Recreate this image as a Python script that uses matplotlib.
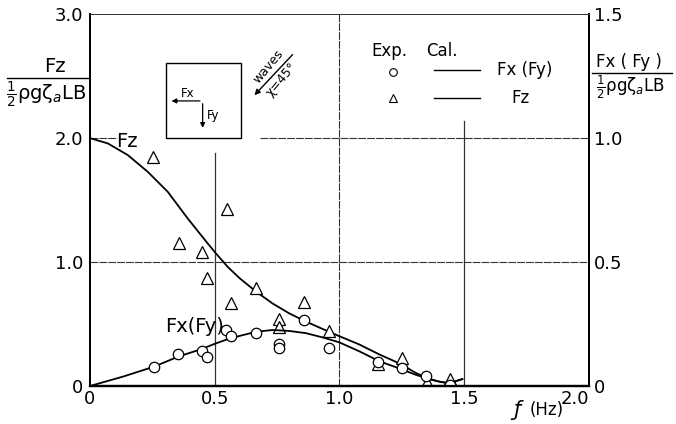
import numpy as np
import matplotlib.pyplot as plt
from matplotlib.lines import Line2D

# measured points (Exp.)
f_fz_exp = [0.252, 0.356, 0.451, 0.469, 0.548, 0.567, 0.664, 0.757, 0.757,
            0.86, 0.957, 1.153, 1.25, 1.35, 1.445]
fz_exp = [1.85, 1.15, 1.08, 0.87, 1.43, 0.67, 0.79, 0.54, 0.48,
          0.68, 0.44, 0.18, 0.23, 0.03, 0.06]

f_fx_exp = [0.257, 0.353, 0.451, 0.469, 0.547, 0.567, 0.664, 0.76, 0.76,
            0.86, 0.957, 1.153, 1.25, 1.348, 1.445]
fx_exp = [0.078, 0.13, 0.14, 0.118, 0.225, 0.20, 0.215, 0.17, 0.155,
          0.265, 0.155, 0.095, 0.073, 0.04, 0.005]   # right axis units

# calculated curves (Cal.)
f_fz_cal = [0, 0.072, 0.152, 0.232, 0.312, 0.392, 0.472, 0.505, 0.552, 0.6,
            0.667, 0.733, 0.8, 0.867, 0.933, 1.0, 1.08, 1.16, 1.24, 1.307,
            1.36, 1.4, 1.44, 1.493]
fz_cal = [2.0, 1.957, 1.863, 1.728, 1.567, 1.352, 1.151, 1.07, 0.962, 0.87,
          0.76, 0.665, 0.585, 0.519, 0.46, 0.402, 0.335, 0.255, 0.183, 0.105,
          0.058, 0.035, 0.022, 0.056]

f_fx_cal = [0, 0.133, 0.257, 0.353, 0.45, 0.5, 0.55, 0.6, 0.667, 0.733, 0.8,
            0.867, 0.933, 1.0, 1.08, 1.16, 1.24, 1.307, 1.36, 1.4, 1.44, 1.493]
fx_cal = [0, 0.038, 0.078, 0.118, 0.15, 0.17, 0.188, 0.202, 0.219, 0.226, 0.222,
          0.213, 0.196, 0.176, 0.14, 0.10, 0.071, 0.045, 0.028, 0.018, 0.011,
          0.028]

xticks = [0, 0.5, 1.0, 1.5, 2.0]
xticklabels = ['0', '0.5', '1.0', '1.5', '2.0']
yticks_l = [0, 1.0, 2.0, 3.0]
yticklabels_l = ['0', '1.0', '2.0', '3.0']
yticks_r = [0, 0.5, 1.0, 1.5]
yticklabels_r = ['0', '0.5', '1.0', '1.5']

plt.rcParams['font.family'] = ['DejaVu Sans']

fig = plt.figure(figsize=(6.76, 4.24), dpi=100)
ax = fig.add_axes([0.133, 0.0896, 0.738, 0.877])
ax.set_xlim(0, 2.0)
ax.set_ylim(0, 3.0)
ax2 = ax.twinx()
ax2.set_ylim(0, 1.5)

ax.tick_params(axis='x', length=0, labelsize=13, pad=3)
ax.tick_params(axis='y', length=0, labelsize=13, pad=5)
ax2.tick_params(axis='y', length=0, labelsize=13, pad=4)
ax.set_xticks(xticks)
ax.set_xticklabels(xticklabels)
ax.get_xticklabels()[-1].set_horizontalalignment('right')
ax.set_yticks(yticks_l)
ax.set_yticklabels(yticklabels_l)
ax2.set_yticks(yticks_r)
ax2.set_yticklabels(yticklabels_r)

for a in (ax, ax2):
    a.spines['left'].set_linewidth(1.3)
    a.spines['bottom'].set_linewidth(1.6)
    a.spines['right'].set_linewidth(1.3)
    a.spines['top'].set_linestyle((0, (5, 1)))
    a.spines['top'].set_linewidth(0.7)
    a.spines['top'].set_color('#333333')

# grid lines, partly broken around the labels and the inset
gkw = dict(color='#333333', lw=0.8, ls=(0, (7, 1)))
ax.plot([0, 2.0], [1.0, 1.0], **gkw)
ax.plot([0, 0.11], [2.0, 2.0], **gkw)
ax.plot([0.68, 2.0], [2.0, 2.0], **gkw)
ax.plot([1.0, 1.0], [0, 3.0], **gkw)
ax.plot([0.5, 0.5], [0, 1.88], color='#333333', lw=0.9)
ax.plot([1.5, 1.5], [0, 2.14], color='#333333', lw=0.9)

# curves and points
ax.plot(f_fz_cal, fz_cal, color='black', lw=1.3)
ax.plot(f_fz_exp, fz_exp, ls='none', marker='^', ms=8, mfc='white',
        mec='black', mew=0.9)
ax2.plot(f_fx_cal, fx_cal, color='black', lw=1.3)
ax2.plot(f_fx_exp, fx_exp, ls='none', marker='o', ms=7.5, mfc='white',
         mec='black', mew=0.9)

ax.text(0.15, 1.97, 'Fz', fontsize=14, ha='center', va='center')
ax.text(0.42, 0.48, 'Fx(Fy)', fontsize=14, ha='center', va='center')

# axis labels as fractions
fig.text(0.081, 0.842, 'Fz', fontsize=14, ha='center', va='center')
fig.add_artist(Line2D([0.010, 0.130], [0.816, 0.816], color='black', lw=1.0))
fig.text(0.069, 0.776, r'$\frac{1}{2}$ρgζ$_a$LB', fontsize=14, ha='center',
         va='center')

fig.text(0.931, 0.853, 'Fx ( Fy )', fontsize=12, ha='center', va='center')
fig.add_artist(Line2D([0.876, 0.994], [0.828, 0.828], color='black', lw=1.0))
fig.text(0.933, 0.795, r'$\frac{1}{2}$ρgζ$_a$LB', fontsize=12, ha='center',
         va='center')

fig.text(0.765, 0.032, 'ƒ', fontsize=15, ha='center', va='center',
         style='italic')
fig.text(0.808, 0.032, '(Hz)', fontsize=12, ha='center', va='center')

# inset sketch of the force directions
ax.add_patch(plt.Rectangle((0.304, 2.0), 0.30, 0.605, fill=False,
                           ec='black', lw=1.0))
ax.annotate('', xy=(0.316, 2.30), xytext=(0.452, 2.30),
            arrowprops=dict(arrowstyle='-|>', color='black', lw=0.9,
                            mutation_scale=7))
ax.annotate('', xy=(0.452, 2.06), xytext=(0.452, 2.30),
            arrowprops=dict(arrowstyle='-|>', color='black', lw=0.9,
                            mutation_scale=7))
ax.text(0.39, 2.36, 'Fx', fontsize=8.5, ha='center', va='center')
ax.text(0.495, 2.18, 'Fy', fontsize=8.5, ha='center', va='center')

# wave direction
ax.annotate('', xy=(0.652, 2.33), xytext=(0.82, 2.69),
            arrowprops=dict(arrowstyle='-|>', color='black', lw=1.0,
                            mutation_scale=8))
ax.text(0.715, 2.58, 'waves', fontsize=9, rotation=50, ha='center',
        va='center')
ax.text(0.77, 2.47, 'χ=45°', fontsize=9, rotation=50, ha='center',
        va='center')

# legend
ax.text(1.2, 2.70, 'Exp.', fontsize=12, ha='center', va='center')
ax.text(1.41, 2.70, 'Cal.', fontsize=12, ha='center', va='center')
ax.plot([1.215], [2.53], ls='none', marker='o', ms=5.5, mfc='white',
        mec='black', mew=0.8)
ax.plot([1.215], [2.32], ls='none', marker='^', ms=6, mfc='white',
        mec='black', mew=0.8)
ax.plot([1.38, 1.565], [2.55, 2.55], color='black', lw=1.0)
ax.plot([1.38, 1.565], [2.32, 2.32], color='black', lw=1.0)
ax.text(1.63, 2.55, 'Fx (Fy)', fontsize=12, ha='left', va='center')
ax.text(1.69, 2.32, 'Fz', fontsize=12, ha='left', va='center')

fig.savefig('out.png', dpi=100)
